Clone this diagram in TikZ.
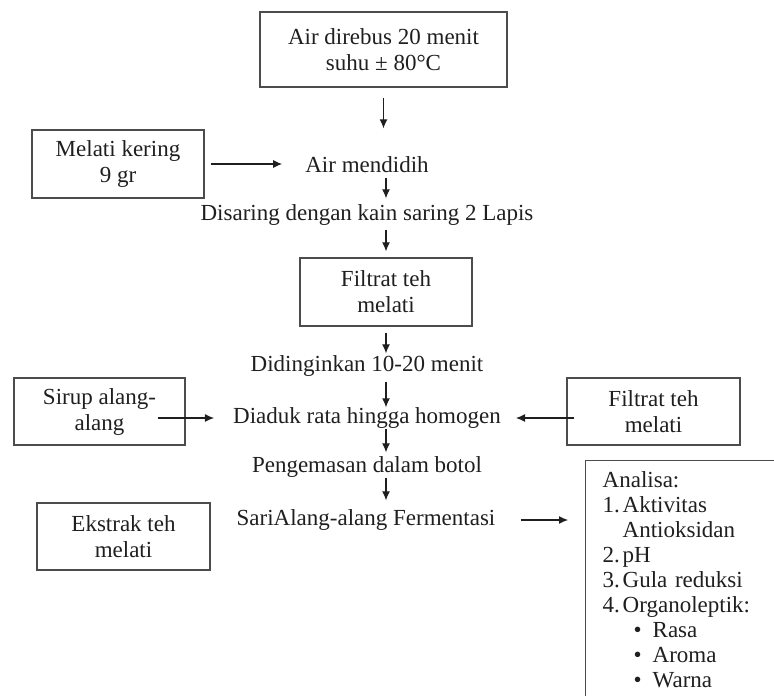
\documentclass[tikz,border=0pt]{standalone}
\usepackage{fontspec}
\setmainfont{Liberation Serif}
\usetikzlibrary{arrows.meta,calc}

\begin{document}
\begin{tikzpicture}[x=1pt,y=-1pt,
  procbox/.style={draw=black!70,line width=1.4pt,align=center,inner sep=0pt,
    font=\fontsize{23}{26}\selectfont,text=black!88},
  steptext/.style={inner sep=0pt,text height=16pt,text depth=5pt,
    font=\fontsize{23}{26}\selectfont,text=black!88},
  flow/.style={draw=black!88,line width=1.1pt,-{Latex[length=9pt,width=8pt]}}]
\useasboundingbox (0,0) rectangle (774,696);
\clip (0,0) rectangle (774,696);

% Boxes
\node[procbox,minimum width=247pt,minimum height=75pt] (boil) at (383.5,49.5) {Air direbus 20 menit\\suhu ± 80°C};
\node[procbox,minimum width=172pt,minimum height=68pt] (melati) at (118,164) {Melati kering\\9 gr};
\node[procbox,minimum width=172pt,minimum height=68pt] (filtrat) at (386,292) {Filtrat teh\\melati};
\node[procbox,minimum width=171pt,minimum height=67pt] (sirup) at (99.5,411.5) {Sirup alang-\\alang};
\node[procbox,minimum width=173pt,minimum height=67pt] (kanan) at (653.5,411.5) {Filtrat teh\\melati};
\node[procbox,minimum width=173pt,minimum height=67pt] (ekstrak) at (123.5,536.5) {Ekstrak teh\\melati};

% Steps
\node[steptext] (mendidih) at (367,167) {Air mendidih};
\node[steptext] (saring) at (367,215) {Disaring dengan kain saring 2 Lapis};
\node[steptext] (dingin) at (367,366) {Didinginkan 10-20 menit};
\node[steptext] (diaduk) at (367,418) {Diaduk rata hingga homogen};
\node[steptext] (kemas) at (367,467) {Pengemasan dalam botol};
\node[steptext] (sari) at (366,520) {SariAlang-alang Fermentasi};

% Analysis list
\node[procbox,anchor=north west,align=left,text width=200pt,inner xsep=17pt,inner ysep=11pt,
  font=\fontsize{23}{25}\selectfont] (analisa) at (585,460)
  {Analisa:\\
   \makebox[20pt][l]{1.}Aktivitas\\
   \hspace*{20pt}Antioksidan\\
   \makebox[20pt][l]{2.}pH\\
   \makebox[20pt][l]{3.}Gula reduksi\\
   \makebox[20pt][l]{4.}Organoleptik:\\
   \hspace*{31pt}\makebox[19pt][l]{\textbullet}Rasa\\
   \hspace*{31pt}\makebox[19pt][l]{\textbullet}Aroma\\
   \hspace*{31pt}\makebox[19pt][l]{\textbullet}Warna};

% Main flow
\draw[flow,shorten <=10pt,shorten >=28pt] (boil.south) -- (boil.south |- mendidih.north);
\draw[flow,shorten >=6pt] (mendidih.south -| filtrat.south) -- (saring.north -| filtrat.south);
\draw[flow,shorten <=4pt,shorten >=6pt] (saring.south -| filtrat.south) -- (filtrat.north);
\draw[flow,shorten <=6pt,shorten >=2pt] (filtrat.south) -- (dingin.north -| filtrat.south);
\draw[flow,shorten <=5pt] (dingin.south -| filtrat.south) -- (diaduk.north -| filtrat.south);
\draw[flow,shorten >=4pt] (diaduk.south -| filtrat.south) -- (kemas.north -| filtrat.south);
\draw[flow,shorten >=9pt] (kemas.south -| filtrat.south) -- (sari.north -| filtrat.south);

% Side inputs
\draw[flow,shorten <=6pt,shorten >=23pt] (melati.east) -- (mendidih.west |- melati.east);
\draw[flow,shorten <=-28pt,shorten >=19pt] (sirup.east |- diaduk.west) -- (diaduk.west);
\draw[flow,shorten <=-8pt,shorten >=15pt] (kanan.west |- diaduk.east) -- (diaduk.east);
\draw[flow,shorten <=25pt,shorten >=17pt] (sari.east) -- (sari.east -| analisa.west);
\end{tikzpicture}
\end{document}
